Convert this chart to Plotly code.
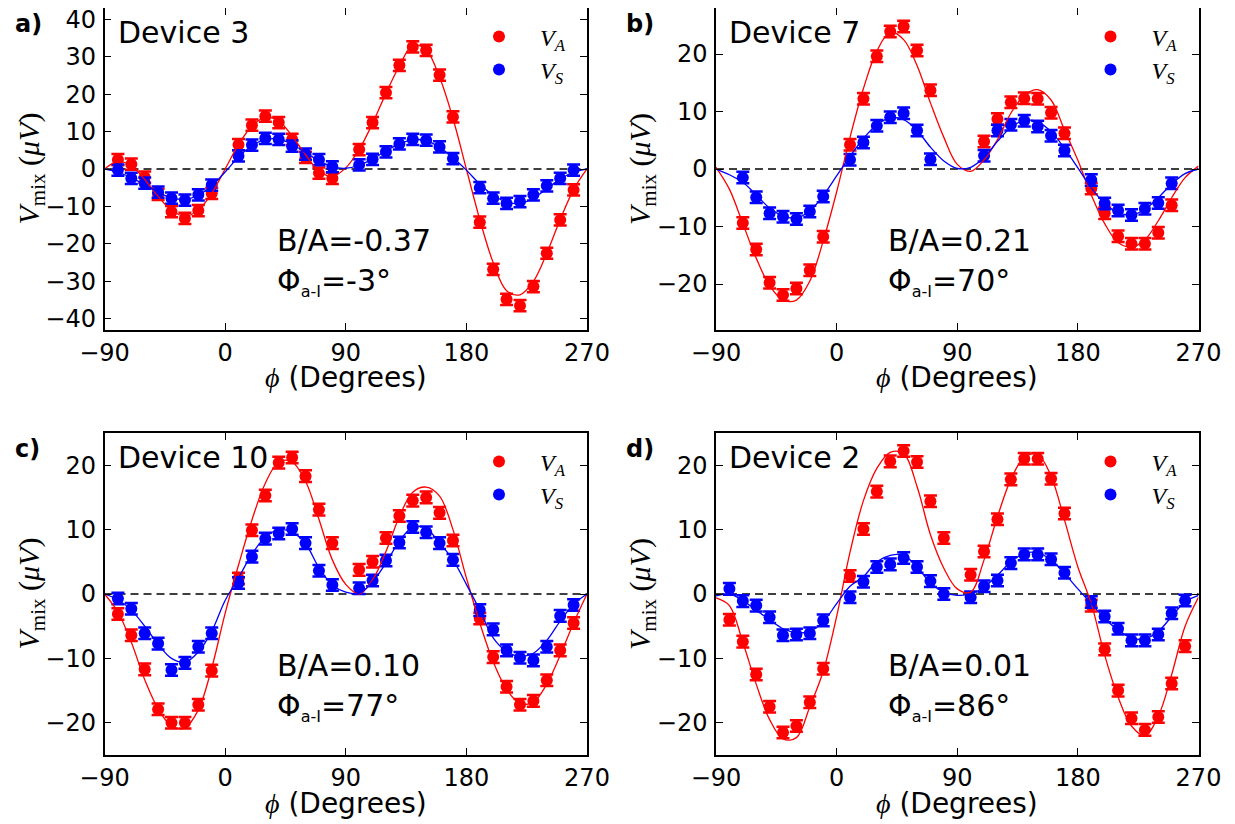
import plotly.graph_objects as go

W, H = 1235, 824
OFF = 8                      # page body margin of the html document
FW, FH = W - OFF, H - OFF

# ---------------- data ----------------
x_ac = [-80, -70, -60, -50, -40, -30, -20, -10, 10, 20, 30, 40, 50, 60, 70, 80,
        100, 110, 120, 130, 140, 150, 160, 170, 190, 200, 210, 220, 230, 240, 250, 260]
x_b = [-70, -60, -50, -40, -30, -20, -10, 10, 20, 30, 40, 50, 60, 70,
       110, 120, 130, 140, 150, 160, 170, 190, 200, 210, 220, 230, 240, 250]
x_d = x_ac

red_a = [2.5, 1.3, -2.2, -6.8, -11.4, -13.2, -11.1, -6.5, 6.5, 11.7, 14.1, 12.4, 7.9, 3.1, -1.1, -2.5,
         5.2, 12.4, 20.4, 27.7, 32.6, 31.7, 25.1, 13.9, -14.2, -26.8, -34.8, -36.5, -31.4, -22.5, -13.6, -5.6]
blue_a = [-0.3, -2.5, -3.8, -6.2, -7.8, -8.3, -6.9, -4.3, 3.5, 6.4, 8.2, 7.9, 6.1, 4.0, 2.5, 0.6,
          1.1, 2.6, 4.6, 6.7, 7.9, 7.7, 5.9, 2.8, -5.0, -7.8, -9.2, -8.7, -6.9, -4.5, -2.5, -0.3]

red_b = [-9.4, -14.0, -19.8, -21.9, -20.8, -17.6, -11.8, 4.2, 12.2, 19.6, 23.9, 24.8, 20.6, 13.7,
         4.8, 8.7, 11.6, 12.3, 12.2, 9.8, 6.2, -3.4, -7.7, -11.7, -13.0, -13.0, -11.1, -6.3]
blue_b = [-1.5, -4.9, -7.7, -8.3, -8.7, -7.4, -4.8, 1.6, 4.6, 7.5, 9.0, 9.7, 6.7, 1.7,
          2.3, 6.7, 7.7, 8.4, 7.4, 5.8, 3.2, -1.9, -6.0, -7.2, -8.0, -6.9, -5.9, -2.5]

red_c = [-3.1, -6.4, -11.7, -17.9, -20.0, -20.0, -17.2, -11.9, 2.4, 9.9, 15.3, 20.4, 21.2, 18.3, 13.1, 7.9,
         3.75, 5.0, 8.7, 12.1, 14.5, 15.0, 12.6, 8.3, -3.8, -9.8, -14.4, -17.2, -16.6, -13.4, -8.75, -4.5]
blue_c = [-0.7, -2.3, -6.1, -7.7, -11.8, -10.7, -8.2, -6.1, 1.7, 5.8, 8.6, 9.4, 10.1, 7.9, 3.6, 1.4,
          0.9, 2.1, 5.2, 8.0, 10.4, 9.6, 7.9, 5.3, -2.5, -5.5, -8.75, -9.9, -10.3, -8.2, -3.4, -1.7]

red_d = [-4.0, -7.4, -12.5, -17.5, -21.5, -20.5, -16.8, -11.6, 2.8, 10.1, 15.9, 20.6, 22.2, 20.5, 14.4, 8.7,
         3.0, 6.6, 11.6, 17.8, 21.0, 21.0, 17.9, 12.5, -1.8, -8.6, -15.0, -19.3, -21.1, -19.1, -13.9, -8.1]
blue_d = [0.8, -1.1, -1.8, -3.6, -6.4, -6.3, -6.1, -4.1, -0.5, 1.9, 4.2, 4.6, 5.6, 4.2, 2.0, 0.0,
          -0.5, 1.2, 2.1, 4.8, 6.15, 6.15, 5.4, 3.3, -1.25, -3.5, -5.4, -7.2, -7.2, -6.3, -3.0, -1.0]

# measurement uncertainties (uV)
err_a, err_b, err_c, err_d = 1.5, 1.0, 0.9, 0.9

# fitted curves at 10 degree steps
x_fit = [-90, -80, -70, -60, -50, -40, -30, -20, -10, 0, 10, 20, 30, 40, 50, 60, 70, 80, 90,
         100, 110, 120, 130, 140, 150, 160, 170, 180, 190, 200, 210, 220, 230, 240, 250, 260, 270]
fit_red_a = [0.0, 2.0, 0.8, -2.8, -7.3, -11.0, -12.6, -11.0, -6.5, 0.0, 6.5, 11.5, 13.8, 12.8, 8.8, 3.8, -0.5, -2.0, 0.3,
             5.2, 12.2, 20.2, 27.5, 33.0, 31.8, 24.5, 13.5, 0.0, -13.5, -25.0, -32.5, -33.6, -30.0, -22.5, -13.5, -5.5, 0.0]
fit_blue_a = [0.0, -0.8, -2.3, -4.2, -6.2, -7.7, -8.1, -7.0, -4.5, -0.8, 3.2, 6.2, 7.9, 8.0, 6.6, 4.4, 2.2, 0.6, 0.2,
              1.0, 2.7, 4.8, 6.7, 7.8, 7.6, 5.8, 3.0, -0.3, -4.0, -7.0, -8.8, -9.2, -7.8, -5.3, -2.7, -0.8, 0.0]
fit_red_b = [0.3, -3.5, -9.5, -15.5, -20.3, -22.8, -22.8, -19.5, -12.5, -4.0, 5.5, 14.0, 20.5, 23.8, 22.5, 18.0, 11.5, 5.5, 0.8,
             -0.4, 1.6, 5.1, 9.7, 12.8, 13.8, 12.0, 6.8, 1.5, -4.5, -9.5, -12.8, -13.6, -12.3, -9.0, -5.0, -1.5, 0.5]
fit_blue_b = [0.0, -1.0, -2.3, -4.5, -6.8, -8.2, -8.5, -7.3, -4.6, -1.2, 2.2, 5.3, 7.7, 8.9, 8.6, 6.7, 3.8, 1.4, 0.1,
              0.3, 2.0, 4.8, 7.2, 8.5, 8.2, 6.5, 3.6, 0.2, -3.3, -6.0, -7.6, -8.0, -7.0, -5.0, -2.6, -0.8, 0.0]
fit_red_c = [0.0, -2.8, -7.5, -13.3, -17.8, -20.5, -20.8, -18.0, -11.5, -3.0, 4.5, 11.5, 17.2, 20.5, 20.5, 17.5, 11.6, 5.3, 1.5,
             0.0, 2.2, 6.6, 12.0, 15.8, 16.6, 15.2, 10.0, 2.5, -4.5, -10.5, -14.8, -17.0, -16.8, -14.0, -9.5, -4.5, 0.0]
fit_blue_c = [0.0, -0.9, -2.5, -5.0, -7.8, -10.0, -10.6, -9.0, -5.8, -1.0, 2.5, 6.2, 8.8, 10.0, 9.6, 7.8, 4.1, 1.4, 0.3,
              0.1, 1.9, 4.8, 8.2, 10.4, 10.2, 7.9, 5.3, 1.5, -2.5, -6.8, -8.9, -9.7, -9.2, -7.2, -4.2, -1.6, 0.0]
fit_red_d = [-0.6, -1.8, -7.5, -14.0, -19.5, -22.5, -22.3, -17.5, -12.0, -3.5, 6.5, 14.5, 19.5, 22.0, 21.8, 16.7, 9.2, 4.0, 0.8,
             0.3, 5.3, 12.0, 17.8, 21.2, 21.7, 18.3, 11.5, 4.2, -1.5, -9.5, -16.0, -20.5, -22.0, -19.0, -12.5, -5.0, -0.5]
fit_blue_d = [-0.3, 0.0, -1.0, -2.5, -4.0, -5.4, -6.0, -5.8, -4.3, -1.5, 1.2, 2.7, 5.0, 6.0, 6.0, 4.2, 1.7, 0.3, -0.2,
              0.0, 1.1, 2.9, 5.0, 6.3, 6.4, 5.3, 3.2, 0.8, -1.5, -3.8, -5.6, -6.8, -7.0, -5.8, -3.5, -1.2, -0.2]

x_ticks = [-90, 0, 90, 180, 270]

panels = [
    dict(label="a)", device="Device 3", ratio="B/A=-0.37", phase="-3°",
         x=x_ac, red=red_a, blue=blue_a, err=err_a, fr=fit_red_a, fb=fit_blue_a,
         yrange=[-43, 43], yticks=[-40, -30, -20, -10, 0, 10, 20, 30, 40]),
    dict(label="b)", device="Device 7", ratio="B/A=0.21", phase="70°",
         x=x_b, red=red_b, blue=blue_b, err=err_b, fr=fit_red_b, fb=fit_blue_b,
         yrange=[-28, 28], yticks=[-20, -10, 0, 10, 20]),
    dict(label="c)", device="Device 10", ratio="B/A=0.10", phase="77°",
         x=x_ac, red=red_c, blue=blue_c, err=err_c, fr=fit_red_c, fb=fit_blue_c,
         yrange=[-25, 25], yticks=[-20, -10, 0, 10, 20]),
    dict(label="d)", device="Device 2", ratio="B/A=0.01", phase="86°",
         x=x_d, red=red_d, blue=blue_d, err=err_d, fr=fit_red_d, fb=fit_blue_d,
         yrange=[-25, 25], yticks=[-20, -10, 0, 10, 20]),
]

# ---------------- layout geometry (screen pixels) ----------------
xdoms_px = [(104.5, 587), (716, 1198.5)]
ydoms_px = [(8, 330), (433, 755)]


def fx(px):
    return (px - OFF) / FW


def fy(py):
    return 1 - (py - OFF) / FH


RED = "#ff0000"
BLUE = "#0000ff"
SANS = "DejaVu Sans"
SERIF = "Liberation Serif"

fig = go.Figure()
layout = dict(width=FW, height=FH, margin=dict(l=0, r=0, t=0, b=0, pad=0, autoexpand=False),
              paper_bgcolor="white", plot_bgcolor="white", showlegend=True)
annotations = []
shapes = []

for i, p in enumerate(panels):
    col, row = i % 2, i // 2
    n = i + 1
    xa = "x" if n == 1 else f"x{n}"
    ya = "y" if n == 1 else f"y{n}"
    lg_r = "legend" if n == 1 else f"legend{2 * n - 1}"
    lg_b = f"legend{2 * n}"
    x0p, x1p = xdoms_px[col]
    y0p, y1p = ydoms_px[row]
    axis_common = dict(showline=True, linecolor="black", linewidth=1.5, mirror="ticks",
                       ticks="inside", ticklen=7, tickwidth=1.2, tickcolor="black",
                       showgrid=False, zeroline=False, automargin=False, ticklabeloverflow="allow",
                       tickfont=dict(family=SANS, size=24, color="black"))
    layout["xaxis" if n == 1 else f"xaxis{n}"] = dict(
        domain=[fx(x0p), fx(x1p)], anchor=ya, range=[-90, 270], tickvals=x_ticks, **axis_common)
    layout["yaxis" if n == 1 else f"yaxis{n}"] = dict(
        domain=[fy(y1p), fy(y0p)], anchor=xa, range=p["yrange"], tickvals=p["yticks"],
        ticklabelstandoff=2, **axis_common)

    # zero dashed line
    shapes.append(dict(type="line", xref=f"{xa} domain", yref=ya, x0=0, x1=1, y0=0, y1=0,
                       line=dict(color="black", width=1.5, dash="8px,5px"), layer="below"))

    err = [p["err"]] * len(p["x"])
    fig.add_trace(go.Scatter(
        x=p["x"], y=p["red"], mode="markers", name="<i>V</i><sub><i>A</i></sub>",
        marker=dict(color=RED, size=12, line=dict(width=0)),
        error_y=dict(type="data", array=err, visible=True, color=RED, thickness=2.5, width=6.5),
        xaxis=xa, yaxis=ya, legend=lg_r))
    fig.add_trace(go.Scatter(
        x=p["x"], y=p["blue"], mode="markers", name="<i>V</i><sub><i>S</i></sub>",
        marker=dict(color=BLUE, size=12, line=dict(width=0)),
        error_y=dict(type="data", array=err, visible=True, color=BLUE, thickness=2.5, width=6.5),
        xaxis=xa, yaxis=ya, legend=lg_b))
    fig.add_trace(go.Scatter(
        x=x_fit, y=p["fr"], mode="lines", line=dict(color=RED, width=1.3, shape="spline", smoothing=1.0),
        xaxis=xa, yaxis=ya, showlegend=False, hoverinfo="skip"))
    fig.add_trace(go.Scatter(
        x=x_fit, y=p["fb"], mode="lines", line=dict(color=BLUE, width=1.3, shape="spline", smoothing=1.0),
        xaxis=xa, yaxis=ya, showlegend=False, hoverinfo="skip"))

    # legend entries inside top-right, one legend box per entry
    dot_x = x1p - 88
    for lg, dy in ((lg_r, 29), (lg_b, 62)):
        layout[lg] = dict(x=fx(dot_x - 41), y=fy(y0p + dy), xanchor="left", yanchor="middle",
                          bgcolor="rgba(0,0,0,0)", borderwidth=0,
                          font=dict(family=SERIF, size=24, color="black"), itemwidth=72)

    # texts
    annotations.append(dict(xref="paper", yref="paper", x=fx(x0p - 92), y=fy(y0p + 16),
                            xanchor="left", yanchor="middle", showarrow=False, text=f"<b>{p['label']}</b>",
                            font=dict(family=SANS, size=24, color="black")))
    annotations.append(dict(xref="paper", yref="paper", x=fx(x0p + 11), y=fy(y0p + 24),
                            xanchor="left", yanchor="middle", showarrow=False, text=p["device"],
                            font=dict(family=SANS, size=30, color="black")))
    annotations.append(dict(xref="paper", yref="paper", x=fx(x0p + 170), y=fy(y0p + 232),
                            xanchor="left", yanchor="middle", showarrow=False, text=p["ratio"],
                            font=dict(family=SANS, size=30, color="black")))
    annotations.append(dict(xref="paper", yref="paper", x=fx(x0p + 170), y=fy(y0p + 274),
                            xanchor="left", yanchor="middle", showarrow=False,
                            text="Φ<sub><span style='font-size:16px'>a-I</span></sub>=" + p["phase"],
                            font=dict(family=SANS, size=30, color="black")))
    # axis titles
    annotations.append(dict(xref="paper", yref="paper", x=fx((x0p + x1p) / 2), y=fy(y1p + 48),
                            xanchor="center", yanchor="middle", showarrow=False,
                            text="<span style='font-family:Liberation Serif'><i>ϕ</i></span> (Degrees)",
                            font=dict(family=SANS, size=28, color="black")))
    annotations.append(dict(xref="paper", yref="paper", x=fx(x0p - 74), y=fy((y0p + y1p) / 2),
                            xanchor="center", yanchor="middle", showarrow=False, textangle=-90,
                            text="<i>V</i><sub>mix</sub> (<i>μV</i>)",
                            font=dict(family=SERIF, size=30, color="black")))

layout["annotations"] = annotations
layout["shapes"] = shapes
fig.update_layout(**layout)
fig.write_html("out.html")
